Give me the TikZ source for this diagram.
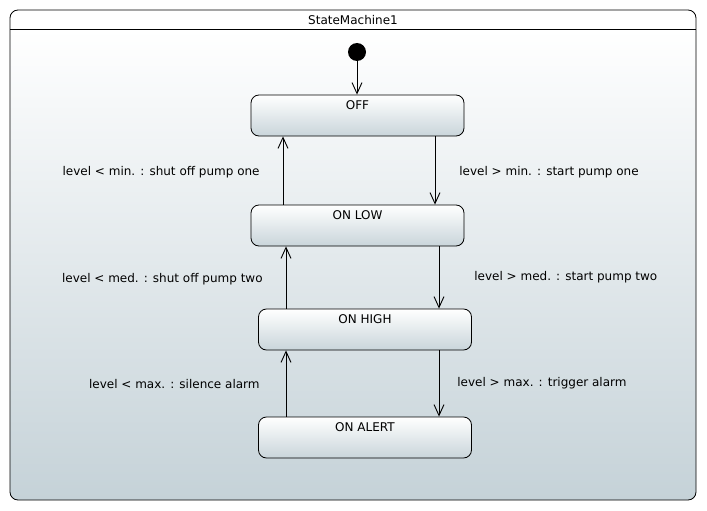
\documentclass[tikz,border=0pt]{standalone}
\usepackage{fontspec}
\setmainfont{DejaVu Sans}
\usetikzlibrary{arrows.meta}
\definecolor{smgrey}{HTML}{C5D2D8}
\definecolor{stgrey}{HTML}{C9D5DA}
\tikzset{
  state/.style={draw, rounded corners=8pt, minimum width=213pt, minimum height=41pt,
    top color=white, bottom color=stgrey, line width=0.8pt},
  trans/.style={line width=0.8pt, -{Straight Barb[length=11pt,width=10pt,line width=0.9pt]}},
  guard/.style={font=\fontsize{12}{14}\selectfont, inner sep=0pt}
}
\begin{document}
\begin{tikzpicture}[x=1pt,y=-1pt]
            \useasboundingbox (0,0) rectangle (707,511);
            % frame of the state machine
            \shade[top color=white, bottom color=smgrey, rounded corners=8pt] (10,29) rectangle (696,500);
            \fill[white, rounded corners=8pt] (10,10) rectangle (696,29);
            \draw[line width=0.8pt, rounded corners=8pt] (10,10) rectangle (696,500);
            \draw[line width=0.8pt] (10,29) -- (696,29);
            \node[guard] (title) at (353,20) {StateMachine1};

            \node[circle, fill=black, minimum size=18pt, inner sep=0pt] (init) at (357,52) {};
            \node[state, label={[guard, anchor=north, yshift=-5.5pt]north:OFF}] (off) at (357.5,115.5) {};
            \node[state, label={[guard, anchor=north, yshift=-5.5pt]north:ON LOW}] (onlow) at (357.5,225.5) {};
            \node[state, label={[guard, anchor=north, yshift=-5.5pt]north:ON HIGH}] (onhigh) at (365,329.5) {};
            \node[state, label={[guard, anchor=north, yshift=-5.5pt]north:ON ALERT}] (onalert) at (365,437.5) {};

            \draw[trans] (init) -- (off.north -| init);
            % going up
            \draw[trans] (onlow.north -| 283,0) -- (off.south -| 283,0) node[guard, midway, left=23pt, yshift=-1.5pt] (g1) {level < min. : shut off pump one};
            \draw[trans] (onhigh.north -| 286,0) -- (onlow.south -| 286,0) node[guard, midway, left=23pt, yshift=-1.5pt] (g2) {level < med. : shut off pump two};
            \draw[trans] (onalert.north -| 286,0) -- (onhigh.south -| 286,0) node[guard, midway, left=26pt, yshift=-1pt] (g3) {level < max. : silence alarm};
            % going down
            \draw[trans] (off.south -| 435,0) -- (onlow.north -| 435,0) node[guard, midway, right=24pt, yshift=-1.5pt] (g4) {level > min. : start pump one};
            \draw[trans] (onlow.south -| 439,0) -- (onhigh.north -| 439,0) node[guard, midway, right=35pt] (g5) {level > med. : start pump two};
            \draw[trans] (onhigh.south -| 439,0) -- (onalert.north -| 439,0) node[guard, midway, right=18pt] (g6) {level > max. : trigger alarm};
            \end{tikzpicture}
\end{document}
